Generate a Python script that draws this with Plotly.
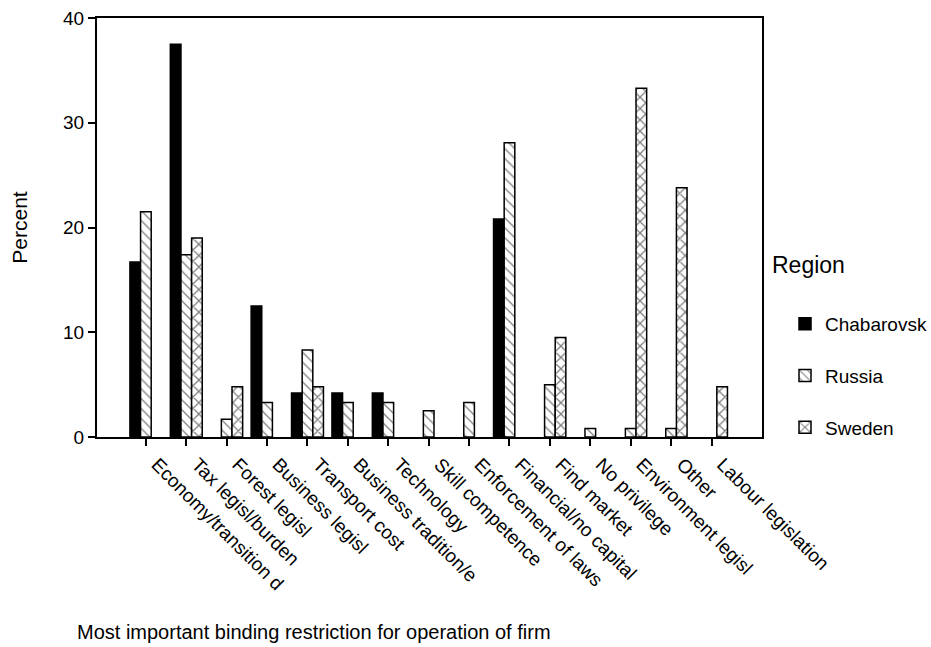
import plotly.graph_objects as go

categories = [
    "Economy/transition d", "Tax legisl/burden", "Forest legisl", "Business legisl",
    "Transport cost", "Business tradition/e", "Technology", "Skill competence",
    "Enforcement of laws", "Financial/no capital", "Find market", "No privilege",
    "Environment legisl", "Other", "Labour legislation",
]
chabarovsk = [16.7, 37.5, 0, 12.5, 4.2, 4.2, 4.2, 0, 0, 20.8, 0, 0, 0, 0, 0]
russia = [21.5, 17.4, 1.7, 3.3, 8.3, 3.3, 3.3, 2.5, 3.3, 28.1, 5.0, 0.8, 0.8, 0.8, 0]
sweden = [0, 19.0, 4.8, 0, 4.8, 0, 0, 0, 0, 0, 9.5, 0, 33.3, 23.8, 4.8]
y_ticks = [0, 10, 20, 30, 40]

FONT = "Arial, Liberation Sans, sans-serif"


def nz(vals):
    # zero-height bars are not drawn in the reference
    return [v if v > 0 else None for v in vals]


fig = go.Figure()
fig.add_trace(go.Bar(
    name="Chabarovsk", x=categories, y=nz(chabarovsk), legendgroup="a",
    marker=dict(color="black", line=dict(color="black", width=1.5)),
))
fig.add_trace(go.Bar(
    name="Russia", x=categories, y=nz(russia), legendgroup="b",
    marker=dict(color="white", line=dict(color="black", width=1.5),
                pattern=dict(shape="\\", fgcolor="black", bgcolor="white",
                             size=7, solidity=0.18)),
))
fig.add_trace(go.Bar(
    name="Sweden", x=categories, y=nz(sweden), legendgroup="c",
    marker=dict(color="white", line=dict(color="black", width=1.5),
                pattern=dict(shape="x", fgcolor="black", bgcolor="white",
                             size=8, solidity=0.3)),
))

fig.update_layout(
    width=931, height=647,
    margin=dict(l=97, r=169, t=18, b=210, autoexpand=False),
    paper_bgcolor="white", plot_bgcolor="white",
    barmode="group", bargap=0.21, bargroupgap=0,
    font=dict(family=FONT, size=19, color="black"),
    showlegend=True,
    legend=dict(x=1.0346, xanchor="left", y=0.315, yanchor="top",
                font=dict(size=19), tracegroupgap=24, traceorder="grouped",
                bgcolor="rgba(0,0,0,0)"),
    xaxis=dict(
        type="category", range=[-1.21, 15.25], tickangle=45, automargin=False,
        showline=True, linecolor="black", linewidth=2, mirror=True,
        ticks="outside", ticklen=7, tickwidth=1.5, tickcolor="black",
        showgrid=False, tickfont=dict(size=19), ticklabelshift=11,
    ),
    yaxis=dict(
        range=[0, 40], tickvals=y_ticks, automargin=False,
        showline=True, linecolor="black", linewidth=2, mirror=True,
        ticks="outside", ticklen=7, tickwidth=1.5, tickcolor="black",
        showgrid=False, zeroline=False, tickfont=dict(size=19),
        title=dict(text="Percent", font=dict(size=21), standoff=30),
    ),
    annotations=[
        dict(text="Most important binding restriction for operation of firm",
             xref="paper", yref="paper", x=-0.033, y=-0.465,
             xanchor="left", yanchor="middle", showarrow=False,
             font=dict(size=20)),
        dict(text="Region", xref="paper", yref="paper", x=1.012, y=0.41,
             xanchor="left", yanchor="middle", showarrow=False,
             font=dict(size=23)),
    ],
)

fig.write_html("out.html", config={"displayModeBar": False},
               post_script="document.body.style.margin='0';")
